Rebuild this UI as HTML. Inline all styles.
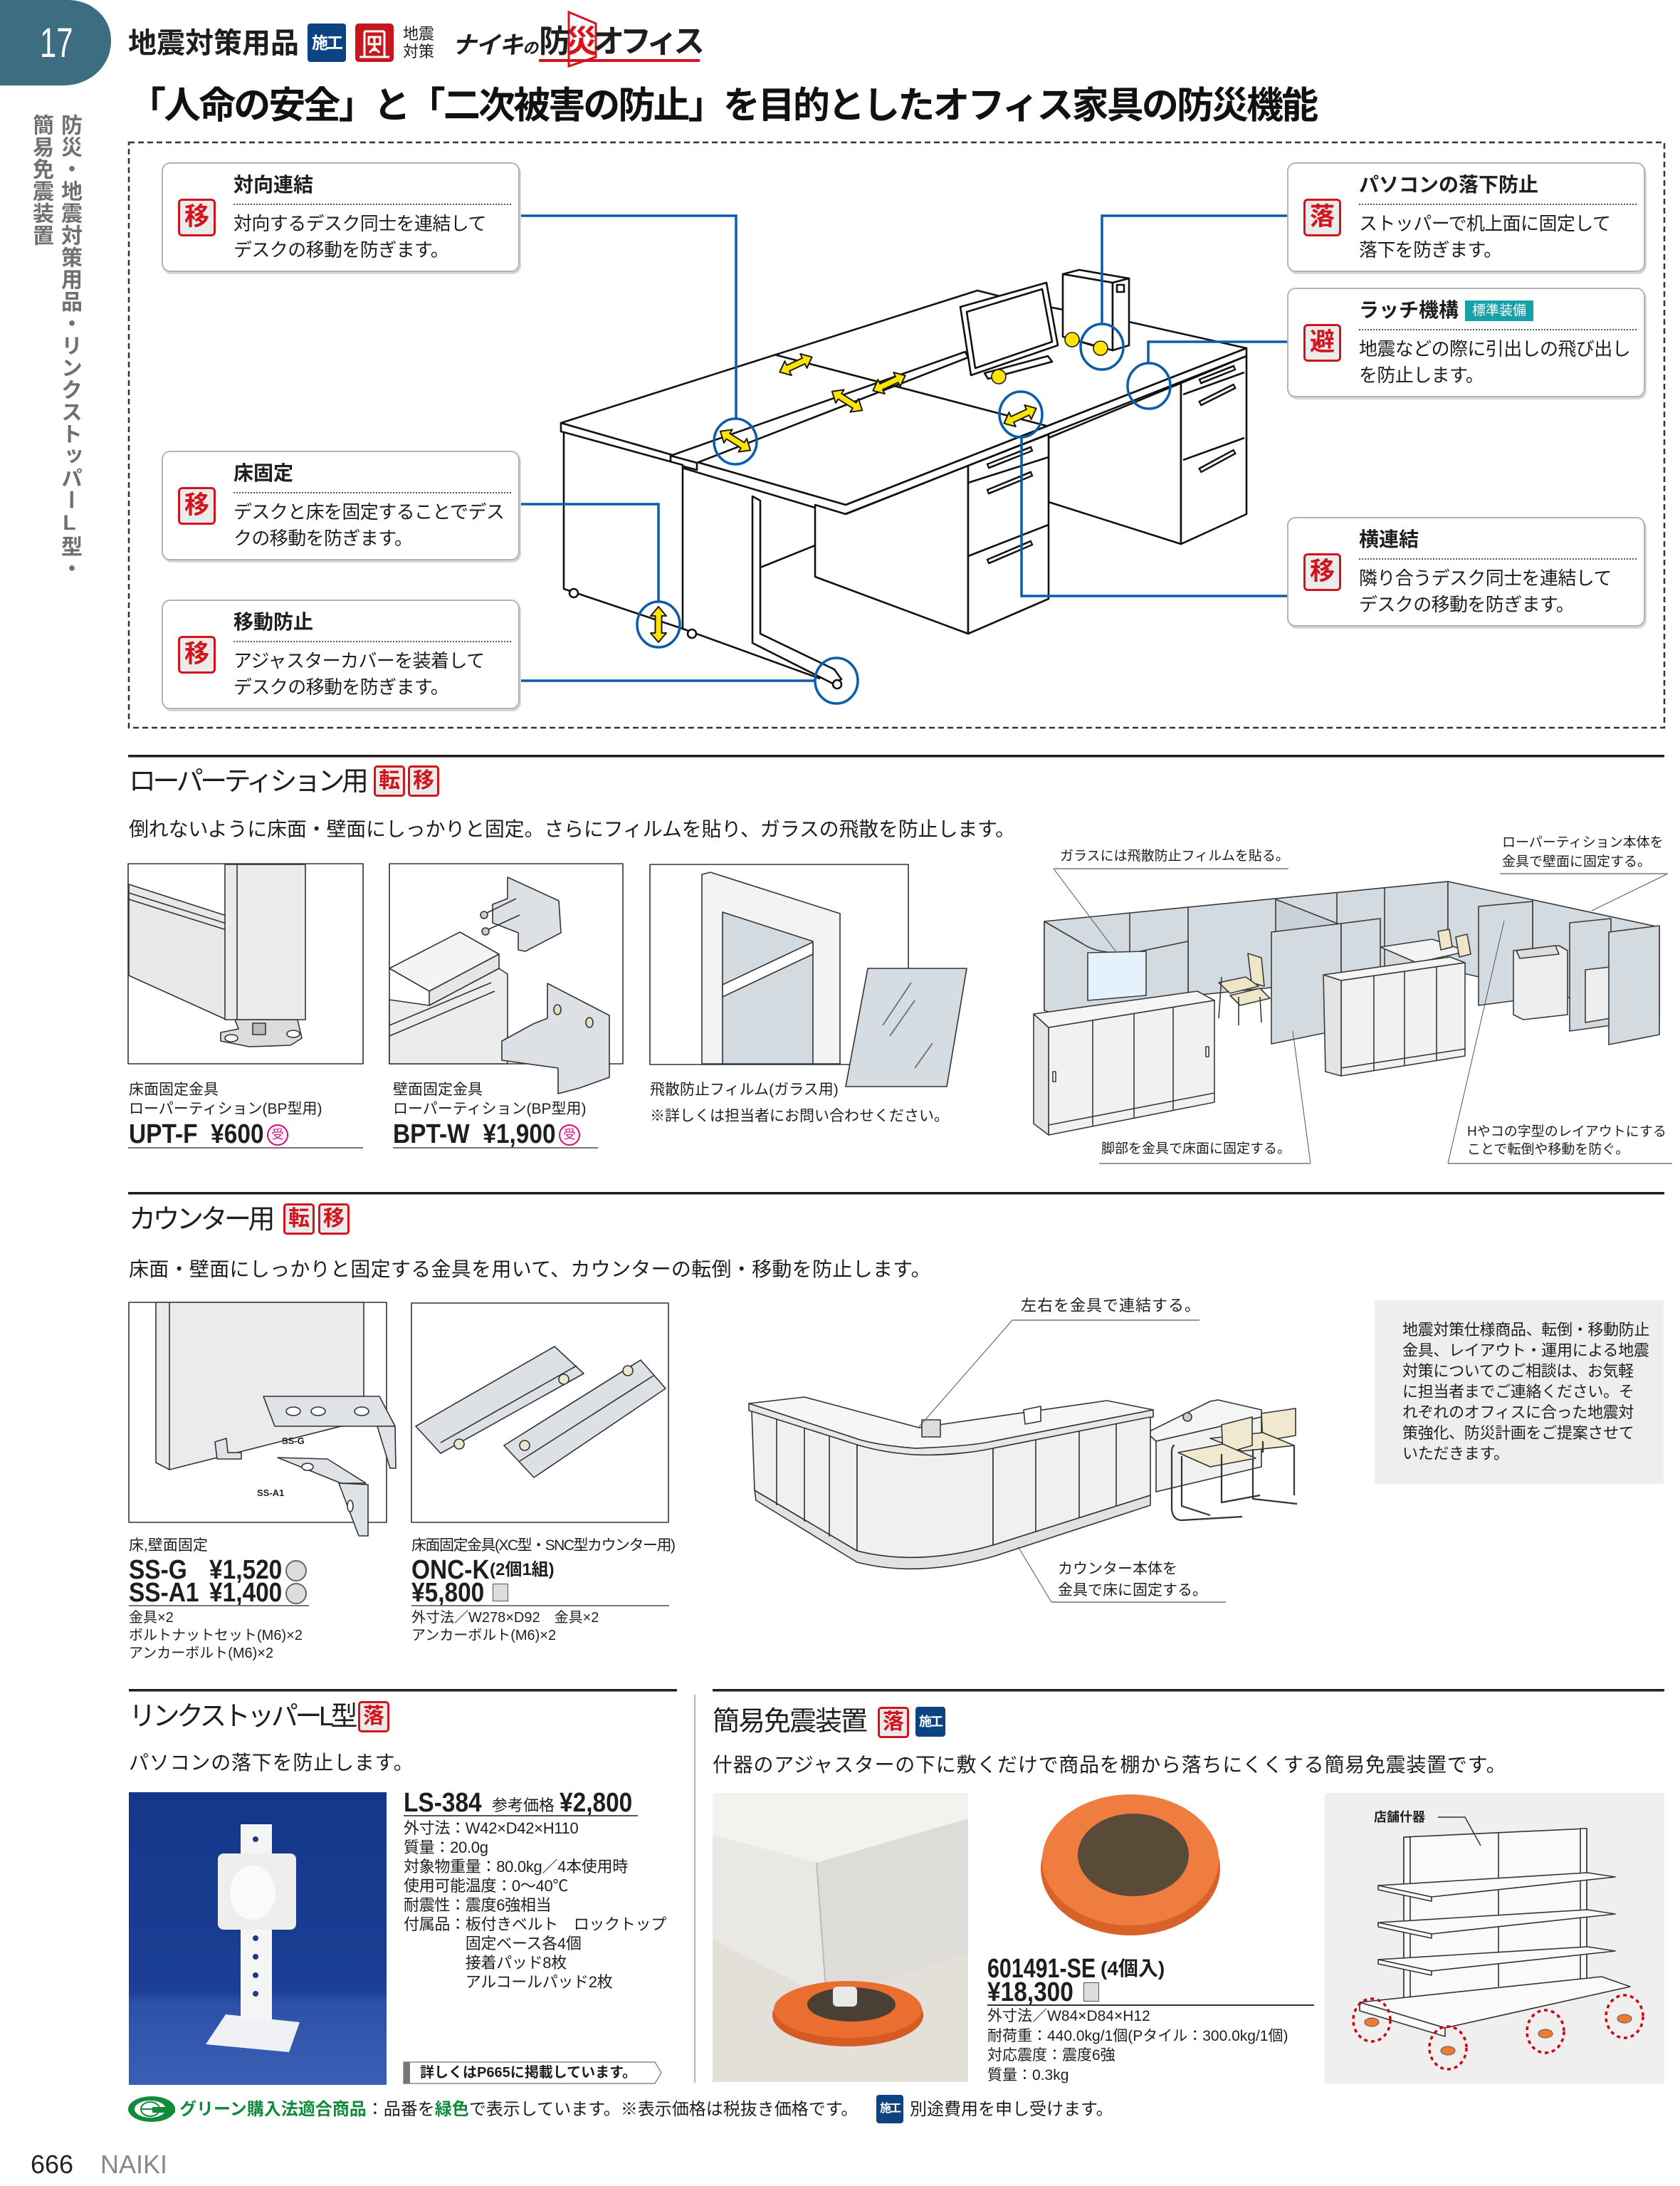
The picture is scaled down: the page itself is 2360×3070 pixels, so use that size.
<!DOCTYPE html>
<html lang="ja"><head><meta charset="utf-8">
<style>
*{margin:0;padding:0;box-sizing:border-box}
html,body{width:2360px;height:3070px;overflow:hidden;background:#fff}
body{position:relative;font-family:"Liberation Sans","Noto Sans CJK JP",sans-serif;color:#1e1e1e}
.t{position:absolute;white-space:nowrap}
.b{font-weight:bold}
.box{position:absolute;width:503px;height:154px;border:2px solid #b3b3b3;border-radius:12px;background:#fff;box-shadow:2px 3px 0 #d6d6d6}
.box .ic{position:absolute;left:21px;top:49px;width:53px;height:53px;border:3px solid #d2141c;border-radius:6px;background:#ebebeb;color:#d2141c;font-weight:bold;font-size:35px;line-height:46px;text-align:center}
.box .hd{position:absolute;left:99px;top:13px;font-size:28px;line-height:34px;font-weight:bold;white-space:nowrap}
.box .dl{position:absolute;left:99px;top:56px;width:390px;border-top:2px dotted #555}
.box .bd{position:absolute;left:99px;top:66px;font-size:26px;line-height:37px;letter-spacing:-.6px;white-space:nowrap}
.bg{position:absolute;width:44px;height:44px;border:3px solid #d2141c;border-radius:5px;background:#ebebeb;color:#d2141c;font-weight:bold;font-size:30px;line-height:38px;text-align:center}
.sk{position:absolute;background:#0e4383;color:#fff;font-weight:bold;border-radius:4px;text-align:center;letter-spacing:-2px}
.h2{font-size:38px;line-height:44px;letter-spacing:-4.5px}
.ds{font-size:28px;line-height:34px}
.cap{font-size:21px;line-height:27px}
.pr{font-weight:bold;font-size:38px;line-height:44px;transform:scaleX(.88);transform-origin:0 50%}
.ul{position:absolute;height:2px;background:#777}
.lb{font-size:19px;line-height:25px}
</style></head><body>

<svg width="2360" height="3070" viewBox="0 0 2360 3070" style="position:absolute;left:0;top:0">
<defs>
<path id="ar" d="M-25,0 L-12,-11 L-12,-4.5 L12,-4.5 L12,-11 L25,0 L12,11 L12,4.5 L-12,4.5 L-12,11 Z" fill="#ffe400" stroke="#1a1a1a" stroke-width="2" stroke-linejoin="round"/>
<linearGradient id="bl" x1="0" y1="0" x2="0" y2="1"><stop offset="0" stop-color="#15378a"/><stop offset=".68" stop-color="#1b3f95"/><stop offset=".72" stop-color="#2d51a8"/><stop offset="1" stop-color="#3a5fb5"/></linearGradient>
</defs>

<rect x="499" y="33" width="54" height="54" rx="5" fill="#c8161d"/>
<g fill="none" stroke="#fff" stroke-width="3"><path d="M512,44 h28 M512,44 v36 M540,44 v36 M505,80 h42 M518,52 h16 v10 h-16z M526,52 v20 M519,74 l7,-7 l7,7"/></g>
<polygon points="799,17 837,33 837,80 799,93" fill="#fff" stroke="#d7141e" stroke-width="3"/>
<rect x="757" y="83" width="226" height="4" fill="#d7141e"/>

<rect x="181" y="200" width="2157" height="822" fill="none" stroke="#333" stroke-width="2.5" stroke-dasharray="8 5"/>

<g stroke="#111" stroke-width="2.6" stroke-linejoin="round" fill="#fff">
<polygon points="1473,615 1659,538 1659,764 1473,705"/>
<polygon points="1659,538 1751,500 1751,722 1659,764"/>
<line x1="1662" y1="554" x2="1748" y2="523"/>
<line x1="1662" y1="646" x2="1748" y2="615"/>
<polygon points="788,594 1373,408 1440,425 1586,452 1751,489 1188,709"/>
<polygon points="1349,431 1470,397 1486,485 1364,527"/>
<polygon points="1358,438 1464,406 1478,480 1370,517"/>
<polygon points="1383,524 1472,500 1478,508 1388,532"/>
<polygon points="1493,385 1516,379 1586,391 1563,397"/>
<polygon points="1493,385 1563,397 1563,492 1493,473"/>
<polygon points="1563,397 1586,391 1586,485 1563,492"/>
<rect x="1569" y="400" width="10" height="10"/>
<polygon points="788,594 1188,709 1751,489 1751,500 1182,724 788,606"/>
<polygon points="942,640 1356,494 1360,502 979,650"/>
<polygon points="942,640 979,650 979,660 942,650"/>
<line x1="1088" y1="498" x2="1470" y2="598"/>
<polygon points="792,607 959,653 959,883 792,827"/>
<line x1="959" y1="883" x2="1152" y2="953"/>
<circle cx="806" cy="833" r="6"/><circle cx="972" cy="890" r="6"/>
<polygon points="1145,709 1188,722 1360,654 1360,890 1145,810"/>
<polygon points="1360,654 1473,610 1473,841 1360,890"/>
<line x1="1360" y1="678" x2="1473" y2="642"/>
<line x1="1360" y1="781" x2="1473" y2="737"/>
<polygon points="1057,697 1068,703 1068,890 1172,940 1182,954 1170,960 1057,903"/>
<line x1="1068" y1="797" x2="1145" y2="766"/>
<circle cx="1176" cy="961" r="6"/>
<g stroke-width="8"><path d="M1387,655 L1450,630 M1387,691 L1450,665 M1387,789 L1450,762 M1685,536 L1735,516 M1685,567 L1735,542 M1685,661 L1735,634"/></g>
<g stroke="#fff" stroke-width="3"><path d="M1389,654 L1448,631 M1389,690 L1448,666 M1389,788 L1448,763 M1687,535 L1733,517 M1687,566 L1733,543 M1687,660 L1733,635"/></g>
</g>
<g fill="#ffe400" stroke="#1a1a1a" stroke-width="1.6">
<line x1="1506" y1="477" x2="1546" y2="489"/>
<circle cx="1506" cy="477" r="10"/><circle cx="1546" cy="489" r="10"/><circle cx="1403" cy="529" r="10"/>
</g>
<use href="#ar" transform="translate(1118,512) rotate(-25)"/>
<use href="#ar" transform="translate(1249,538) rotate(-25)"/>
<use href="#ar" transform="translate(1190,563) rotate(32)"/>
<use href="#ar" transform="translate(1033,619) rotate(32)"/>
<use href="#ar" transform="translate(1433,584) rotate(-25)"/>
<use href="#ar" transform="translate(925,877) rotate(90)"/>
<g fill="none" stroke="#0b5cab" stroke-width="3.5">
<polyline points="731,303 1034,303 1034,588"/>
<polyline points="731,708 925,708 925,845"/>
<polyline points="731,956 1145,956"/>
<polyline points="1808,303 1548,303 1548,455"/>
<polyline points="1808,480 1613,480 1613,510"/>
<polyline points="1808,837 1435,837 1435,614"/>
<ellipse cx="1033" cy="620" rx="30" ry="32"/>
<ellipse cx="925" cy="877" rx="30" ry="32"/>
<ellipse cx="1175" cy="956" rx="30" ry="32"/>
<ellipse cx="1548" cy="487" rx="30" ry="32"/>
<ellipse cx="1614" cy="542" rx="30" ry="32"/>
<ellipse cx="1434" cy="582" rx="30" ry="32"/>
</g>

<rect x="180" y="1060" width="2158" height="3.5" fill="#1e1e1e"/>
<rect x="180" y="1674" width="2158" height="3.5" fill="#1e1e1e"/>
<rect x="181" y="2372" width="770" height="3.5" fill="#1e1e1e"/>
<rect x="1001" y="2372" width="1337" height="3.5" fill="#1e1e1e"/>
<line x1="976" y1="2380" x2="976" y2="2925" stroke="#999" stroke-width="1.5"/>

<g stroke="#333" stroke-width="1.6" stroke-linejoin="round">
<rect x="180" y="1213" width="330" height="281" fill="#fff"/>
<polygon points="181,1242 318,1286 318,1432 181,1370" fill="#e8e8e8"/>
<polyline points="181,1254 318,1297" fill="none"/>
<polyline points="181,1263 318,1306" fill="none"/>
<rect x="316" y="1214" width="113" height="218" fill="#ebebeb"/>
<line x1="333" y1="1214" x2="333" y2="1432"/>
<polygon points="330,1432 418,1432 424,1458 408,1468 350,1470 310,1462 310,1450 335,1445" fill="#dcdcdc"/>
<rect x="355" y="1437" width="18" height="16" fill="#bbb"/>
<ellipse cx="325" cy="1458" rx="9" ry="5" fill="#fff"/>
<ellipse cx="412" cy="1452" rx="9" ry="5" fill="#fff"/>

<rect x="547" y="1213" width="328" height="281" fill="#fff"/>
<polygon points="547,1404 603,1412 701,1360 713,1368 713,1494 547,1494" fill="#ececec"/>
<line x1="547" y1="1440" x2="690" y2="1380"/><line x1="547" y1="1455" x2="695" y2="1392"/>
<polygon points="547,1360 646,1309 701,1340 603,1392" fill="#f4f4f4"/>
<polygon points="603,1392 701,1340 701,1360 603,1412" fill="#e6e6e6"/>
<polygon points="713,1232 785,1265 788,1310 738,1336 728,1334 728,1310 692,1296 692,1270 713,1262" fill="#dde1e6"/>
<line x1="678" y1="1285" x2="725" y2="1262"/><line x1="680" y1="1308" x2="730" y2="1285"/>
<circle cx="680" cy="1285" r="5" fill="#ccc"/><circle cx="682" cy="1308" r="5" fill="#ccc"/>
<polygon points="769,1381 856,1426 856,1513 814,1528 784,1536 784,1500 705,1489 705,1462 749,1438 769,1430" fill="#dde1e6"/>
<ellipse cx="783" cy="1418" rx="5" ry="7" fill="#e8dcc0"/><ellipse cx="828" cy="1436" rx="5" ry="7" fill="#e8dcc0"/>

<rect x="913" y="1214" width="363" height="281" fill="#fff"/>
<polygon points="986,1228 998,1225 1180,1283 1180,1494 986,1494" fill="#f3f3f3"/>
<polygon points="1015,1281 1142,1322 1142,1494 1015,1494" fill="#d3dbe1"/>
<polygon points="1015,1383 1142,1323 1142,1340 1015,1400" fill="#fff"/>
<polygon points="1219,1360 1358,1360 1330,1526 1188,1526" fill="#d5dde3"/>
<line x1="1240" y1="1440" x2="1280" y2="1380" stroke="#666"/><line x1="1250" y1="1455" x2="1285" y2="1405" stroke="#666"/><line x1="1285" y1="1500" x2="1310" y2="1465" stroke="#666"/>
</g>

<g stroke="#3a3a3a" stroke-width="1.6" stroke-linejoin="round">
<polygon points="1467,1294 2034,1238 2034,1362 1467,1419" fill="#d3dbe1"/>
<polygon points="2034,1238 2331,1302 2331,1430 2034,1362" fill="#d3dbe1"/>
<line x1="1587" y1="1282" x2="1587" y2="1407"/>
<line x1="1669" y1="1274" x2="1669" y2="1399"/>
<line x1="1878" y1="1254" x2="1878" y2="1378"/>
<line x1="1945" y1="1247" x2="1945" y2="1371"/>
<line x1="2153" y1="1264" x2="2153" y2="1390"/>
<polygon points="1792,1263 1884,1299 1884,1445 1792,1410" fill="#c9d2d9"/>
<polygon points="1939,1330 2012,1319 2061,1336 1990,1352" fill="#f3f3f3"/>
<polygon points="2020,1308 2036,1305 2040,1330 2024,1334" fill="#efe6c8"/>
<polygon points="2045,1316 2061,1312 2066,1340 2050,1344" fill="#efe6c8"/>
<polygon points="1786,1309 1884,1297 1884,1446 1786,1466" fill="#d3dbe1"/>
<polygon points="1884,1297 1939,1290 1939,1420 1884,1432" fill="#d3dbe1"/>
<path d="M1467,1294 L1522,1326 Q1540,1339 1587,1339 L1669,1322 L1669,1440 L1587,1460 Q1540,1460 1522,1440 L1467,1419 Z" fill="#d3dbe1"/>
<polygon points="1528,1338 1610,1336 1610,1398 1528,1405" fill="#e5f2fb"/>
<polygon points="1753,1339 1772,1345 1776,1385 1758,1380" fill="#efe6c8"/>
<polygon points="1712,1380 1750,1372 1768,1385 1728,1395" fill="#efe6c8"/>
<polygon points="1728,1398 1770,1388 1784,1402 1742,1412" fill="#efe6c8"/>
<path d="M1716,1372 L1712,1430 M1740,1400 L1740,1440 M1770,1400 L1772,1436" fill="none"/>
<polygon points="2077,1273 2153,1266 2153,1402 2077,1412" fill="#d3dbe1"/>
<polygon points="2126,1335 2190,1328 2202,1335 2202,1425 2140,1432 2126,1425" fill="#eeeeee"/>
<polygon points="2130,1335 2185,1328 2190,1340 2135,1346" fill="#ddd"/>
<polygon points="2205,1296 2263,1290 2263,1440 2205,1448" fill="#d3dbe1"/>
<polygon points="2227,1362 2262,1358 2262,1430 2227,1436" fill="#eee"/>
<polygon points="2260,1309 2331,1300 2331,1453 2260,1467" fill="#d3dbe1"/>
<polygon points="1452,1424 1682,1392 1706,1405 1473,1443" fill="#f5f5f5"/>
<polygon points="1473,1443 1706,1405 1706,1548 1473,1594" fill="#f1f1f1"/>
<polygon points="1452,1424 1473,1443 1473,1594 1452,1578" fill="#e4e4e4"/>
<line x1="1535" y1="1433" x2="1535" y2="1582"/><line x1="1593" y1="1423" x2="1593" y2="1570"/><line x1="1648" y1="1414" x2="1648" y2="1559"/>
<line x1="1473" y1="1580" x2="1706" y2="1535"/>
<rect x="1479" y="1505" width="4" height="14" fill="#fff"/><rect x="1694" y="1470" width="4" height="14" fill="#fff"/>
<polygon points="1859,1369 2037,1344 2058,1352 1884,1377" fill="#f5f5f5"/>
<polygon points="1884,1377 2058,1352 2058,1483 1884,1511" fill="#f1f1f1"/>
<polygon points="1859,1369 1884,1377 1884,1511 1862,1505" fill="#e4e4e4"/>
<line x1="1930" y1="1370" x2="1930" y2="1504"/><line x1="1973" y1="1364" x2="1973" y2="1497"/><line x1="2018" y1="1358" x2="2018" y2="1490"/>
<line x1="1884" y1="1500" x2="2058" y2="1473"/>
</g>
<g stroke="#555" stroke-width="1" fill="none">
<line x1="1480" y1="1220" x2="1568" y2="1337"/>
<line x1="2343" y1="1227" x2="2236" y2="1279"/>
<line x1="1841" y1="1634" x2="1816" y2="1448"/>
<line x1="2034" y1="1634" x2="2113" y2="1293"/>
</g>
<rect x="1480" y="1219" width="330" height="2" fill="#999"/>
<rect x="2107" y="1226" width="236" height="2" fill="#999"/>
<rect x="1544" y="1633" width="297" height="2" fill="#999"/>
<rect x="2034" y="1633" width="315" height="2" fill="#999"/>

<g stroke="#333" stroke-width="1.6" stroke-linejoin="round">
<rect x="181" y="1829" width="362" height="309" fill="#fff"/>
<polygon points="219,1829 511,1829 511,1995 238,2064 219,2054" fill="#ebebeb"/>
<line x1="238" y1="1829" x2="238" y2="2064"/>
<polygon points="302,2025 318,2020 320,2040 339,2040 339,2049 305,2049" fill="#dfe2e6"/>
<polygon points="370,1961 533,1961 555,2003 386,2003" fill="#dfe2e6"/>
<polygon points="530,2003 555,2003 556,2062 548,2062" fill="#dfe2e6"/>
<ellipse cx="412" cy="1982" rx="10" ry="6" fill="#fff"/><ellipse cx="447" cy="1982" rx="10" ry="6" fill="#fff"/><ellipse cx="508" cy="1982" rx="10" ry="6" fill="#fff"/>
<polygon points="390,2047 460,2049 514,2083 479,2083" fill="#dfe2e6"/>
<polygon points="476,2083 517,2085 517,2157 504,2157" fill="#dfe2e6"/>
<ellipse cx="432" cy="2060" rx="8" ry="5" fill="#fff"/><ellipse cx="492" cy="2115" rx="4" ry="8" fill="#fff"/>
<rect x="578" y="1830" width="361" height="308" fill="#fff"/>
<polygon points="584,2003 779,1891 820,1929 619,2041" fill="#dde1e6"/>
<line x1="619" y1="2026" x2="810" y2="1918"/>
<polygon points="708,2030 900,1910 935,1950 750,2075" fill="#dde1e6"/>
<line x1="730" y1="2052" x2="918" y2="1932"/>
<circle cx="645" cy="2028" r="7" fill="#eee6cc"/><circle cx="792" cy="1937" r="7" fill="#eee6cc"/>
<circle cx="737" cy="2030" r="7" fill="#eee6cc"/><circle cx="882" cy="1925" r="7" fill="#eee6cc"/>
</g>

<g stroke="#333" stroke-width="1.6" stroke-linejoin="round">
<polygon points="1611,2012 1700,1968 1711,1966 1772,1980 1772,1990 1624,2024" fill="#f5f5f5"/>
<polygon points="1624,2024 1772,1990 1772,2060 1624,2095" fill="#f0f0f0"/>
<circle cx="1668" cy="1990" r="6" fill="#ccc"/>
<polygon points="1052,1971 1130,1962 1291,2005 1555,1967 1620,1980 1395,2024 1364,2031 1286,2034 1225,2029 1199,2019" fill="#f6f6f6"/>
<path d="M1052,1971 L1199,2019 Q1225,2029 1286,2034 Q1364,2031 1395,2024 L1620,1980 L1620,1990 L1395,2034 Q1364,2042 1286,2044 Q1225,2040 1199,2029 L1052,1981 Z" fill="#e8e8e8"/>
<polygon points="1056,1982 1204,2029 1204,2178 1060,2093" fill="#f0f0f0"/>
<path d="M1204,2029 Q1290,2055 1395,2034 L1395,2170 Q1290,2200 1204,2178 Z" fill="#f0f0f0"/>
<polygon points="1395,2034 1616,1990 1616,2100 1395,2170" fill="#f0f0f0"/>
<path d="M1060,2093 L1204,2178 Q1290,2200 1395,2170 L1616,2100 L1616,2114 L1395,2186 Q1290,2216 1204,2194 L1062,2107 Z" fill="#e2e2e2"/>
<line x1="1091" y1="1993" x2="1091" y2="2114"/><line x1="1130" y1="2005" x2="1130" y2="2137"/><line x1="1165" y1="2016" x2="1165" y2="2158"/>
<line x1="1455" y1="2022" x2="1455" y2="2151"/><line x1="1516" y1="2010" x2="1516" y2="2132"/><line x1="1568" y1="1999" x2="1568" y2="2115"/>
<rect x="1295" y="1994" width="26" height="24" fill="#ddd"/>
<polygon points="1438,1980 1462,1975 1462,1996 1440,2000" fill="#fff"/>
<polygon points="1772,1985 1820,1978 1820,2016 1774,2024" fill="#f1e9cf"/>
<polygon points="1700,2020 1774,2012 1818,2030 1745,2038" fill="#f1e9cf"/>
<path d="M1760,2035 L1760,2105 L1822,2112 M1818,2030 L1818,2100 M1774,2024 L1774,2040" fill="none" stroke-width="2.2"/>
<polygon points="1716,2001 1759,1990 1759,2030 1718,2042" fill="#f1e9cf"/>
<polygon points="1655,2040 1718,2028 1764,2048 1700,2060" fill="#f1e9cf"/>
<path d="M1650,2030 Q1646,2030 1646,2040 L1646,2120 Q1648,2135 1660,2135 L1745,2130 M1660,2045 L1660,2115 L1700,2128 M1716,2042 L1716,2110 L1770,2100" fill="none" stroke-width="2.2"/>
</g>
<g stroke="#555" stroke-width="1" fill="none">
<line x1="1422" y1="1854" x2="1290" y2="2005"/>
<line x1="1430" y1="2172" x2="1477" y2="2250"/>
</g>
<rect x="1422" y="1853" width="263" height="2" fill="#999"/>
<rect x="1477" y="2249" width="245" height="2" fill="#999"/>
<rect x="1931" y="1826" width="406" height="258" fill="#eeeeee"/>

<rect x="181" y="2517" width="362" height="411" fill="url(#bl)"/>
<polygon points="289,2871 317,2829 421,2840 406,2882" fill="#eef0f4"/>
<rect x="338" y="2562" width="44" height="275" fill="#f5f5f5"/>
<rect x="306" y="2603" width="110" height="107" rx="8" fill="#eeeeec"/>
<ellipse cx="355" cy="2658" rx="32" ry="38" fill="#fafafa"/>
<g fill="#1c3b8a"><circle cx="359" cy="2583" r="4"/><circle cx="359" cy="2722" r="4"/><circle cx="359" cy="2748" r="4"/><circle cx="359" cy="2774" r="4"/><circle cx="359" cy="2800" r="4"/></g>
<polygon points="567,2896 920,2896 929,2911 920,2926 567,2926" fill="#fff" stroke="#888" stroke-width="1.5"/>
<rect x="567" y="2896" width="9" height="30" fill="#777"/>

<rect x="1001" y="2518" width="359" height="406" fill="#e3dfd9"/>
<polygon points="1001,2518 1360,2518 1360,2554 1147,2616 1001,2577" fill="#f3f2ef"/>
<polygon points="1001,2577 1147,2616 1161,2807 1001,2723" fill="#e9e8e5"/>
<polygon points="1147,2616 1360,2554 1360,2742 1161,2807" fill="#dedcd8"/>
<line x1="1147" y1="2616" x2="1161" y2="2807" stroke="#bbb" stroke-width="2"/>
<ellipse cx="1191" cy="2830" rx="106" ry="44" fill="#d65a24"/>
<ellipse cx="1191" cy="2822" rx="104" ry="40" fill="#ea6e30"/>
<ellipse cx="1196" cy="2815" rx="62" ry="24" fill="#4a3f35"/>
<rect x="1170" y="2790" width="34" height="28" rx="6" fill="#e8e8e8"/>
<ellipse cx="1588" cy="2624" rx="126" ry="94" fill="#d9622a"/>
<ellipse cx="1588" cy="2612" rx="124" ry="92" fill="#ef7d40"/>
<ellipse cx="1592" cy="2605" rx="78" ry="58" fill="#5a4a38"/>
<rect x="1861" y="2518" width="477" height="408" fill="#efefef"/>
<g stroke="#333" stroke-width="1.6" stroke-linejoin="round" fill="#fafafa">
<polygon points="1972,2580 2229,2568 2229,2800 1972,2822"/>
<line x1="2105" y1="2574" x2="2105" y2="2790"/>
<rect x="1972" y="2580" width="9" height="242"/>
<rect x="2220" y="2568" width="9" height="232"/>
<polygon points="1936,2648 2230,2630 2269,2636 2011,2664"/>
<polygon points="1936,2648 2011,2664 2011,2670 1936,2654"/>
<polygon points="1936,2700 2230,2682 2269,2688 2011,2716"/>
<polygon points="1936,2700 2011,2716 2011,2722 1936,2706"/>
<polygon points="1936,2752 2230,2734 2269,2740 2011,2768"/>
<polygon points="1936,2752 2011,2768 2011,2774 1936,2758"/>
<polygon points="1910,2812 2250,2776 2290,2790 2030,2848"/>
<polygon points="1910,2812 2030,2848 2030,2860 1910,2824"/>
</g>
<g fill="#ef7a30" stroke="#555"><ellipse cx="1927" cy="2840" rx="10" ry="6"/><ellipse cx="2034" cy="2880" rx="10" ry="6"/><ellipse cx="2171" cy="2856" rx="10" ry="6"/><ellipse cx="2282" cy="2835" rx="10" ry="6"/></g>
<g fill="none" stroke="#d40010" stroke-width="3.5" stroke-dasharray="5 5">
<ellipse cx="1927" cy="2837" rx="26" ry="30"/><ellipse cx="2034" cy="2876" rx="26" ry="30"/><ellipse cx="2171" cy="2853" rx="26" ry="30"/><ellipse cx="2282" cy="2832" rx="26" ry="30"/>
</g>
<polyline points="2020,2552 2058,2552 2080,2592" fill="none" stroke="#333" stroke-width="1.5"/>

<ellipse cx="213" cy="2962" rx="33" ry="18" fill="#13893b"/>
<ellipse cx="211" cy="2962" rx="22" ry="12" fill="#fff"/>
<ellipse cx="211" cy="2962" rx="13" ry="10" fill="none" stroke="#13893b" stroke-width="2"/>
<line x1="198" y1="2962" x2="224" y2="2962" stroke="#13893b" stroke-width="2"/>
<rect x="214" y="2959" width="32" height="8" fill="#13893b"/>
</svg>

<div style="position:absolute;left:0;top:0;width:156px;height:120px;background:#3d6d80;border-radius:0 60px 66px 0/0 56px 62px 0"></div>
<div class="t" style="left:56px;top:31px;font-size:58px;line-height:60px;color:#fff;transform:scaleX(.72);transform-origin:0 0">17</div>
<div class="t b" style="left:180px;top:37px;font-size:40px;line-height:48px">地震対策用品</div>
<div class="sk" style="left:432px;top:33px;width:54px;height:54px;font-size:23px;line-height:54px">施工</div>
<div class="t" style="left:566px;top:35px;font-size:22px;line-height:25px">地震<br>対策</div>
<div class="t b" style="left:635px;top:44px;font-size:34px;line-height:40px;font-style:italic;letter-spacing:-1px">ナイキ<span style="font-size:22px">の</span></div>
<div class="t b" style="left:757px;top:34px;font-size:44px;line-height:50px;letter-spacing:-6px">防<span style="color:#d7141e">災</span>オフィス</div>

<div class="t b" style="left:181px;top:119px;font-size:52px;line-height:60px;letter-spacing:-2.9px;color:#111">「人命の安全」と「二次被害の防止」を目的としたオフィス家具の防災機能</div>

<div class="t b" style="left:82px;top:160px;writing-mode:vertical-rl;text-orientation:upright;font-size:30px;line-height:30px;letter-spacing:1px;color:#707070">防災・地震対策用品・リンクストッパーL型・</div>
<div class="t b" style="left:42px;top:160px;writing-mode:vertical-rl;text-orientation:upright;font-size:30px;line-height:30px;letter-spacing:1px;color:#707070">簡易免震装置</div>

<div class="box" style="left:227px;top:228px"><div class="ic">移</div><div class="hd">対向連結</div><div class="dl"></div><div class="bd">対向するデスク同士を連結して<br>デスクの移動を防ぎます。</div></div>
<div class="box" style="left:227px;top:633px"><div class="ic">移</div><div class="hd">床固定</div><div class="dl"></div><div class="bd">デスクと床を固定することでデス<br>クの移動を防ぎます。</div></div>
<div class="box" style="left:227px;top:842px"><div class="ic">移</div><div class="hd">移動防止</div><div class="dl"></div><div class="bd">アジャスターカバーを装着して<br>デスクの移動を防ぎます。</div></div>
<div class="box" style="left:1808px;top:228px"><div class="ic">落</div><div class="hd">パソコンの落下防止</div><div class="dl"></div><div class="bd">ストッパーで机上面に固定して<br>落下を防ぎます。</div></div>
<div class="box" style="left:1808px;top:404px"><div class="ic">避</div><div class="hd">ラッチ機構</div><div style="position:absolute;left:248px;top:16px;width:96px;height:29px;background:#17a2aa;color:#fff;font-size:19px;line-height:29px;text-align:center">標準装備</div><div class="dl"></div><div class="bd">地震などの際に引出しの飛び出し<br>を防止します。</div></div>
<div class="box" style="left:1808px;top:726px"><div class="ic">移</div><div class="hd">横連結</div><div class="dl"></div><div class="bd">隣り合うデスク同士を連結して<br>デスクの移動を防ぎます。</div></div>

<div class="t h2" style="left:181px;top:1076px">ローパーティション用</div>
<div class="bg" style="left:525px;top:1075px">転</div><div class="bg" style="left:573px;top:1075px">移</div>
<div class="t ds" style="left:181px;top:1148px;letter-spacing:-.2px">倒れないように床面・壁面にしっかりと固定。さらにフィルムを貼り、ガラスの飛散を防止します。</div>
<div class="t cap" style="left:181px;top:1517px">床面固定金具<br>ローパーティション(BP型用)</div>
<div class="t pr" style="left:181px;top:1571px">UPT-F&nbsp;&nbsp;¥600</div>
<div class="t" style="left:375px;top:1579px;width:30px;height:30px;border:2px solid #e4007f;border-radius:50%;color:#e4007f;font-size:17px;line-height:26px;text-align:center">受</div>
<div class="ul" style="left:180px;top:1611px;width:330px"></div>
<div class="t cap" style="left:552px;top:1517px">壁面固定金具<br>ローパーティション(BP型用)</div>
<div class="t pr" style="left:552px;top:1571px">BPT-W&nbsp;&nbsp;¥1,900</div>
<div class="t" style="left:785px;top:1579px;width:30px;height:30px;border:2px solid #e4007f;border-radius:50%;color:#e4007f;font-size:17px;line-height:26px;text-align:center">受</div>
<div class="ul" style="left:552px;top:1611px;width:288px"></div>
<div class="t cap" style="left:913px;top:1517px">飛散防止フィルム(ガラス用)</div>
<div class="t cap" style="left:913px;top:1554px">※詳しくは担当者にお問い合わせください。</div>
<div class="t lb" style="left:1489px;top:1190px">ガラスには飛散防止フィルムを貼る。</div>
<div class="t lb" style="left:2110px;top:1170px;line-height:27px">ローパーティション本体を<br>金具で壁面に固定する。</div>
<div class="t lb" style="left:1547px;top:1601px">脚部を金具で床面に固定する。</div>
<div class="t lb" style="left:2061px;top:1577px">Hやコの字型のレイアウトにする<br>ことで転倒や移動を防ぐ。</div>

<div class="t h2" style="left:181px;top:1691px">カウンター用</div>
<div class="bg" style="left:398px;top:1690px">転</div><div class="bg" style="left:447px;top:1690px">移</div>
<div class="t ds" style="left:181px;top:1766px;letter-spacing:.3px">床面・壁面にしっかりと固定する金具を用いて、カウンターの転倒・移動を防止します。</div>
<div class="t b" style="left:396px;top:2016px;font-size:13px;line-height:16px">SS-G</div>
<div class="t b" style="left:361px;top:2089px;font-size:13px;line-height:16px">SS-A1</div>
<div class="t cap" style="left:181px;top:2157px">床,壁面固定</div>
<div class="t pr" style="left:181px;top:2183px">SS-G</div>
<div class="t pr" style="left:294px;top:2183px">¥1,520</div>
<div class="t pr" style="left:181px;top:2215px">SS-A1</div>
<div class="t pr" style="left:294px;top:2215px">¥1,400</div>
<div class="t" style="left:401px;top:2191px;width:30px;height:30px;border:2px solid #666;border-radius:50%;background:#ddd"></div>
<div class="t" style="left:401px;top:2223px;width:30px;height:30px;border:2px solid #666;border-radius:50%;background:#ddd"></div>
<div class="ul" style="left:181px;top:2254px;width:253px"></div>
<div class="t" style="left:181px;top:2260px;font-size:20px;line-height:25px">金具×2<br>ボルトナットセット(M6)×2<br>アンカーボルト(M6)×2</div>
<div class="t cap" style="left:578px;top:2157px;letter-spacing:-1.5px">床面固定金具(XC型・SNC型カウンター用)</div>
<div class="t pr" style="left:578px;top:2183px">ONC-K</div>
<div class="t b" style="left:688px;top:2190px;font-size:24px;line-height:30px">(2個1組)</div>
<div class="t pr" style="left:578px;top:2215px">¥5,800</div>
<div class="t" style="left:692px;top:2224px;width:22px;height:25px;border:1.5px solid #555;background:#ddd"></div>
<div class="ul" style="left:578px;top:2254px;width:362px"></div>
<div class="t" style="left:578px;top:2260px;font-size:20px;line-height:25px">外寸法／W278×D92　金具×2<br>アンカーボルト(M6)×2</div>
<div class="t" style="left:1434px;top:1820px;font-size:22px;line-height:28px;letter-spacing:1px">左右を金具で連結する。</div>
<div class="t" style="left:1486px;top:2189px;font-size:21px;line-height:30px">カウンター本体を<br>金具で床に固定する。</div>
<div class="t" style="left:1970px;top:1853px;font-size:22px;line-height:29px;letter-spacing:-.3px">地震対策仕様商品、転倒・移動防止<br>金具、レイアウト・運用による地震<br>対策についてのご相談は、お気軽<br>に担当者までご連絡ください。そ<br>れぞれのオフィスに合った地震対<br>策強化、防災計画をご提案させて<br>いただきます。</div>

<div class="t h2" style="left:181px;top:2389px">リンクストッパーL型</div>
<div class="bg" style="left:503px;top:2389px">落</div>
<div class="t ds" style="left:181px;top:2459px;letter-spacing:.8px">パソコンの落下を防止します。</div>
<div class="t pr" style="left:567px;top:2510px">LS-384</div>
<div class="t" style="left:691px;top:2523px;font-size:22px;line-height:26px">参考価格</div>
<div class="t pr" style="left:786px;top:2510px">¥2,800</div>
<div class="ul" style="left:567px;top:2549px;width:329px;background:#555"></div>
<div class="t" style="left:567px;top:2554px;font-size:22px;line-height:27px;letter-spacing:-.3px">外寸法：W42×D42×H110<br>質量：20.0g<br>対象物重量：80.0kg／4本使用時<br>使用可能温度：0〜40℃<br>耐震性：震度6強相当<br>付属品：板付きベルト　ロックトップ<br>　　　　固定ベース各4個<br>　　　　接着パッド8枚<br>　　　　アルコールパッド2枚</div>
<div class="t b" style="left:590px;top:2899px;font-size:20px;line-height:24px">詳しくはP665に掲載しています。</div>

<div class="t h2" style="left:1001px;top:2396px;letter-spacing:-2px">簡易免震装置</div>
<div class="bg" style="left:1233px;top:2397px">落</div>
<div class="sk" style="left:1286px;top:2397px;width:42px;height:42px;font-size:18px;line-height:42px">施工</div>
<div class="t ds" style="left:1001px;top:2462px;letter-spacing:.75px">什器のアジャスターの下に敷くだけで商品を棚から落ちにくくする簡易免震装置です。</div>
<div class="t pr" style="left:1387px;top:2743px;transform:scaleX(.8)">601491-SE</div>
<div class="t b" style="left:1546px;top:2743px;font-size:28px;line-height:44px">(4個入)</div>
<div class="t pr" style="left:1387px;top:2776px">¥18,300</div>
<div class="t" style="left:1522px;top:2784px;width:22px;height:27px;border:1.5px solid #555;background:#ddd"></div>
<div class="ul" style="left:1387px;top:2815px;width:459px;background:#333"></div>
<div class="t" style="left:1387px;top:2818px;font-size:21px;line-height:27.5px">外寸法／W84×D84×H12<br>耐荷重：440.0kg/1個(Pタイル：300.0kg/1個)<br>対応震度：震度6強<br>質量：0.3kg</div>
<div class="t b" style="left:1930px;top:2540px;font-size:18px;line-height:24px">店舗什器</div>

<div class="t" style="left:252px;top:2948px;font-size:24px;line-height:30px"><span style="color:#13893b;font-weight:bold">グリーン購入法適合商品</span>：品番を<span style="color:#13893b;font-weight:bold">緑色</span>で表示しています。※表示価格は税抜き価格です。</div>
<div class="sk" style="left:1231px;top:2942px;width:38px;height:40px;font-size:16px;line-height:40px">施工</div>
<div class="t" style="left:1278px;top:2948px;font-size:24px;line-height:30px">別途費用を申し受けます。</div>
<div class="t" style="left:43px;top:3020px;font-size:36px;line-height:40px;color:#222">666</div>
<div class="t" style="left:141px;top:3020px;font-size:36px;line-height:40px;color:#888">NAIKI</div>
</body></html>
